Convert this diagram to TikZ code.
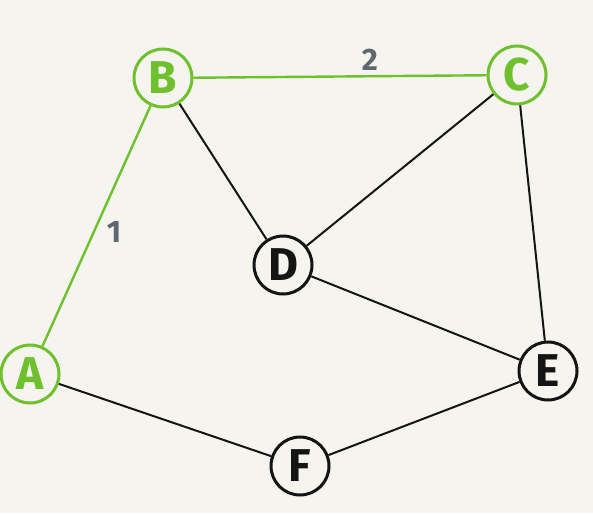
\documentclass[tikz,border=0pt]{standalone}
\usepackage{fontspec}
\setmainfont{Fira Sans}
\definecolor{paper}{RGB}{246,244,238}
\definecolor{pathgreen}{RGB}{110,192,45}
\definecolor{ink}{RGB}{20,20,20}
\definecolor{weightgray}{RGB}{95,103,112}
\begin{document}
\begin{tikzpicture}[x=1pt,y=-1pt,
  vertex/.style={circle,draw=ink,line width=3pt,minimum size=58pt,inner sep=0pt,
    font=\bfseries\fontsize{46}{46}\selectfont,text=ink},
  pathvertex/.style={vertex,draw=pathgreen,text=pathgreen},
  edge/.style={draw=ink,line width=2pt},
  pathedge/.style={draw=pathgreen,line width=2.4pt},
  weight/.style={font=\bfseries\fontsize{31}{31}\selectfont,text=weightgray}]
  \fill[paper] (0,0) rectangle (593,513);
  \useasboundingbox (0,0) rectangle (593,513);

  \node[pathvertex] (A) at (30,374) {A};
  \node[pathvertex] (B) at (163,78) {B};
  \node[pathvertex] (C) at (517,75) {C};
  \node[vertex] (D) at (283,265) {D};
  \node[vertex] (E) at (548,371) {E};
  \node[vertex] (F) at (300,466) {F};

  \draw[pathedge] (A) -- (B);
  \draw[pathedge] (B) -- (C);
  \draw[edge] (B) -- (D);
  \draw[edge] (C) -- (D);
  \draw[edge] (C) -- (E);
  \draw[edge] (D) -- (E);
  \draw[edge] (A) -- (F);
  \draw[edge] (F) -- (E);

  \node[weight] (w1) at (114,232) {1};
  \node[weight] (w2) at (370,60) {2};
\end{tikzpicture}
\end{document}
